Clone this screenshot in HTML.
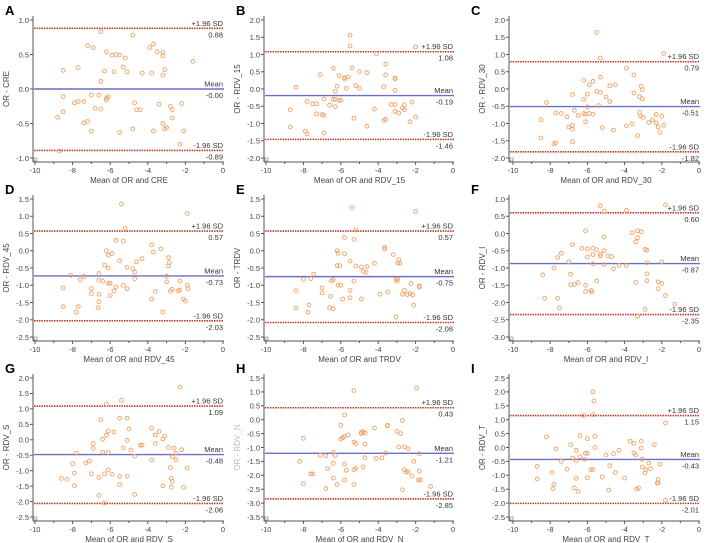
<!DOCTYPE html>
<html><head><meta charset="utf-8">
<style>
html,body{margin:0;padding:0;background:#fff;}
svg{display:block;font-family:"Liberation Sans",Arial,sans-serif;}
</style></head>
<body>
<svg id="fig" width="708" height="543" viewBox="0 0 708 543" xmlns="http://www.w3.org/2000/svg"></svg>
<script>
// ---- data ----
const panelLetters = ["A","B","C","D","E","F","G","H","I"];
const yLabels = ["OR - CRE","OR - RDV_15","OR - RDV_30","OR - RDV_45","OR - TRDV","OR - RDV_I","OR - RDV_S","OR - RDV_N","OR - RDV_T"];
const xLabels = ["Mean of OR and CRE","Mean of OR and RDV_15","Mean of OR and RDV_30","Mean of OR and RDV_45","Mean of OR and TRDV","Mean of OR and RDV_I","Mean of OR and RDV_S","Mean of OR and RDV_N","Mean of OR and RDV_T"];
const yMins = [-1,-2,-2,-2.5,-2.5,-3,-2.5,-3.5,-2.5];
const yMaxs = [1,2,2,1.5,1.5,1,2,1.5,2.5];
const yStep = 0.5;
const xTicks = [-10,-8,-6,-4,-2,0];
const means = [-0.00,-0.19,-0.51,-0.73,-0.75,-0.87,-0.48,-1.21,-0.43];
const upperLoA = [0.88,1.08,0.79,0.57,0.57,0.60,1.09,0.43,1.15];
const lowerLoA = [-0.89,-1.46,-1.82,-2.03,-2.08,-2.35,-2.06,-2.85,-2.01];
const pointsA = [[-6.5,0.83],[-4.8,0.78],[-7.2,0.63],[-6.9,0.6],[-3.9,0.6],[-3.7,0.65],[-3.5,0.54],[-3.2,0.53],[-3.2,0.48],[-6.2,0.54],[-5.9,0.49],[-5.7,0.5],[-5.5,0.49],[-5.2,0.45],[-1.6,0.4],[-8.5,0.27],[-7.7,0.31],[-6.3,0.26],[-5.8,0.25],[-5.3,0.32],[-5.1,0.25],[-4.3,0.23],[-3.8,0.23],[-3.1,0.28],[-3.2,0.2],[-6.5,0.11],[-8.5,-0.11],[-7.9,-0.2],[-7.7,-0.18],[-7.4,-0.18],[-7.0,-0.09],[-6.6,-0.09],[-6.2,-0.13],[-6.1,-0.11],[-6.2,-0.16],[-6.8,-0.28],[-6.5,-0.29],[-4.7,-0.2],[-4.6,-0.3],[-4.4,-0.3],[-3.4,-0.22],[-2.8,-0.25],[-2.7,-0.3],[-2.7,-0.42],[-2.2,-0.21],[-8.5,-0.33],[-8.8,-0.41],[-7.4,-0.49],[-7.2,-0.47],[-7.0,-0.61],[-5.5,-0.63],[-4.8,-0.58],[-3.7,-0.61],[-3.2,-0.5],[-3.1,-0.58],[-3.0,-0.56],[-2.1,-0.61],[-2.3,-0.8],[-8.7,-0.9]];
const pointsB = [[-5.5,1.56],[-5.5,1.25],[-2,1.22],[-4.1,1.02],[-3.6,0.72],[-6.4,0.6],[-5.4,0.61],[-7.1,0.42],[-6.1,0.39],[-5.8,0.33],[-5.8,0.29],[-5.6,0.35],[-5.0,0.5],[-4.6,0.47],[-3.6,0.41],[-3.1,0.32],[-3.1,0.29],[-8.4,0.05],[-6.2,0.08],[-5.7,0.02],[-5.2,0.1],[-5.0,0.02],[-3.7,0.07],[-3.1,-0.04],[-6.3,-0.07],[-7.8,-0.36],[-7.5,-0.43],[-7.3,-0.43],[-6.9,-0.29],[-6.6,-0.47],[-6.4,-0.3],[-6.3,-0.3],[-6.1,-0.33],[-6.0,-0.33],[-6.3,-0.51],[-3.3,-0.45],[-3.1,-0.45],[-2.7,-0.55],[-2.6,-0.46],[-2.6,-0.6],[-2.2,-0.38],[-7.3,-0.72],[-7.0,-0.74],[-6.9,-0.76],[-5.3,-0.85],[-4.2,-0.58],[-3.6,-0.88],[-3.7,-0.91],[-3.1,-0.65],[-2.9,-0.7],[-2.3,-0.95],[-2,-0.81],[-8.7,-0.6],[-8.7,-1.1],[-7.9,-1.22],[-7.8,-1.3],[-6.9,-1.27],[-4.6,-1.08]];
const pointsC = [[-5.5,1.64],[-5.3,0.9],[-1.9,1.03],[-3.9,0.6],[-3.5,0.41],[-6.2,0.25],[-5.9,0.12],[-5.7,0.22],[-5.3,0.34],[-4.8,0.09],[-4.5,0.12],[-3.1,0.08],[-3.05,-0.02],[-6.8,-0.16],[-6.0,-0.15],[-5.5,-0.07],[-5.3,-0.1],[-5.0,-0.23],[-4.8,-0.36],[-3.5,-0.12],[-3.2,-0.22],[-3.05,-0.28],[-6.2,-0.3],[-8.2,-0.39],[-6.0,-0.52],[-5.4,-0.48],[-7.7,-0.69],[-7.4,-0.71],[-7.1,-0.81],[-6.7,-0.62],[-6.5,-0.77],[-6.2,-0.71],[-6.1,-0.73],[-5.9,-0.71],[-5.7,-0.73],[-6.1,-0.95],[-3.2,-0.67],[-3.15,-0.78],[-3.0,-0.82],[-2.7,-0.97],[-2.5,-0.9],[-2.3,-0.74],[-2.0,-0.79],[-2.3,-0.98],[-2.2,-1.1],[-1.9,-1.05],[-2.1,-1.26],[-8.5,-0.89],[-7.0,-1.1],[-6.8,-1.05],[-6.8,-1.17],[-5.2,-1.12],[-4.6,-1.19],[-3.9,-1.07],[-3.6,-1.01],[-3.3,-1.35],[-8.5,-1.42],[-7.8,-1.59],[-7.7,-1.56],[-6.8,-1.53]];
const pointsD = [[-5.4,1.35],[-1.9,1.08],[-5.2,0.65],[-5.7,0.3],[-5.3,0.28],[-3.8,0.17],[-3.3,0.05],[-6.2,0],[-5.9,-0.08],[-6.1,-0.13],[-3.7,-0.04],[-2.9,-0.2],[-4.3,-0.23],[-4.6,-0.32],[-2.85,-0.34],[-5.5,-0.29],[-6.3,-0.42],[-6.1,-0.5],[-5.1,-0.48],[-4.8,-0.52],[-4.7,-0.62],[-2.9,-0.44],[-8.1,-0.71],[-7.4,-0.75],[-7.6,-0.84],[-6.6,-0.66],[-6.6,-0.85],[-6.4,-0.88],[-4.7,-0.81],[-3.0,-0.74],[-3.0,-0.9],[-6.1,-0.95],[-6.0,-0.94],[-5.7,-1.05],[-5.3,-1.0],[-5.1,-1.1],[-2.3,-0.88],[-2.7,-1.12],[-2.8,-1.18],[-2.4,-1.16],[-2.3,-1.14],[-1.9,-1.0],[-1.85,-1.1],[-3.6,-1.18],[-5.8,-1.17],[-8.5,-1.08],[-7.0,-1.1],[-7.0,-1.25],[-6.6,-1.26],[-6.0,-1.3],[-6.6,-1.48],[-3.8,-1.4],[-2.1,-1.4],[-2.0,-1.46],[-8.5,-1.62],[-7.7,-1.62],[-7.8,-1.78],[-6.65,-1.65],[-3.2,-1.78]];
const pointsE = [[-5.4,1.25],[-2,1.14],[-5.2,0.6],[-5.3,0.33],[-5.8,0.38],[-3.65,0.1],[-3.65,0.05],[-3.2,-0.11],[-6.2,0],[-6.15,-0.07],[-5.8,-0.09],[-2.9,-0.26],[-5.5,-0.3],[-6.2,-0.43],[-6.05,-0.43],[-5.2,-0.44],[-4.9,-0.47],[-4.6,-0.46],[-4.2,-0.36],[-4.8,-0.6],[-4.65,-0.63],[-2.95,-0.35],[-2.85,-0.36],[-7.45,-0.68],[-8.0,-0.83],[-7.6,-0.81],[-6.5,-0.87],[-6.4,-0.84],[-5.3,-0.88],[-3.05,-0.83],[-3.0,-0.88],[-2.95,-0.82],[-6.15,-1.0],[-6.0,-1.0],[-7.0,-1.07],[-8.4,-1.16],[-7.0,-1.22],[-6.55,-1.32],[-5.5,-1.15],[-2.25,-0.95],[-1.8,-1.02],[-1.8,-1.05],[-2.6,-1.15],[-3.9,-1.26],[-3.5,-1.2],[-2.7,-1.26],[-2.3,-1.24],[-2.15,-1.28],[-2.45,-1.27],[-5.9,-1.4],[-5.5,-1.36],[-4.9,-1.4],[-2.1,-1.58],[-8.4,-1.65],[-7.7,-1.57],[-7.75,-1.78],[-6.6,-1.65],[-6.4,-1.68],[-3.05,-1.92]];
const pointsF = [[-5.3,0.8],[-5.1,0.65],[-3.9,0.67],[-1.8,0.83],[-6.1,0.08],[-3.6,0.02],[-3.3,0.08],[-3.1,0.05],[-3.3,-0.12],[-3.4,-0.24],[-5.1,-0.1],[-6.8,-0.32],[-6.3,-0.43],[-6.0,-0.45],[-5.7,-0.43],[-5.5,-0.47],[-5.1,-0.5],[-5.3,-0.6],[-5.3,-0.65],[-5.7,-0.61],[-6.0,-0.68],[-4.9,-0.65],[-4.7,-0.67],[-2.9,-0.46],[-2.8,-0.48],[-7.6,-0.7],[-7.4,-0.57],[-7.0,-0.82],[-5.7,-0.88],[-5.1,-0.9],[-4.3,-0.92],[-3.9,-0.93],[-2.8,-0.85],[-2.0,-0.82],[-4.6,-1.02],[-7.8,-1.0],[-8.4,-1.2],[-6.9,-1.18],[-6.9,-1.48],[-6.7,-1.48],[-6.5,-1.42],[-6.1,-1.5],[-5.5,-1.37],[-3.4,-1.42],[-2.8,-1.17],[-2.8,-1.37],[-2.2,-1.4],[-2.0,-1.45],[-2.2,-1.6],[-6.1,-1.68],[-5.8,-1.65],[-5.75,-1.7],[-8.3,-1.88],[-7.6,-1.88],[-7.5,-2.15],[-1.8,-1.8],[-1.3,-2.05],[-2.9,-2.2],[-3.3,-2.4]];
const pointsG = [[-2.3,1.7],[-5.4,1.28],[-6.2,1.15],[-6.5,0.65],[-5.5,0.7],[-5.1,0.7],[-5.0,0.35],[-5.8,0.25],[-6.1,0.28],[-6.2,0.15],[-6.4,0.02],[-5.1,-0.02],[-3.8,0.37],[-3.6,0.15],[-3.4,0.27],[-3.2,0.03],[-3.1,0.12],[-6.9,-0.12],[-6.9,-0.28],[-5.3,-0.27],[-4.9,-0.33],[-4.4,-0.18],[-4.3,-0.17],[-3.6,-0.12],[-2.9,-0.25],[-2.6,-0.27],[-2.2,-0.32],[-6.4,-0.4],[-6.1,-0.41],[-7.8,-0.43],[-4.7,-0.53],[-2.7,-0.55],[-2.5,-0.43],[-2.5,-0.64],[-3.8,-0.66],[-8.0,-0.77],[-7.3,-0.75],[-7.1,-0.69],[-6.1,-0.97],[-7.9,-1.08],[-7.0,-1.1],[-6.3,-1.1],[-5.9,-1.12],[-5.5,-1.18],[-5.1,-1.18],[-1.9,-0.92],[-8.6,-1.25],[-8.3,-1.28],[-7.9,-1.48],[-6.6,-1.22],[-5.5,-1.45],[-3.2,-1.49],[-2.8,-0.9],[-2.75,-1.25],[-2.7,-1.35],[-2.75,-1.54],[-2.1,-1.54],[-6.6,-1.8],[-4.7,-1.77],[-6.3,-2.05]];
const pointsH = [[-5.3,1.05],[-1.95,1.13],[-5.8,0.17],[-6.0,-0.2],[-2.7,-0.03],[-4.2,-0.3],[-3.5,-0.2],[-3.5,-0.22],[-3.0,-0.42],[-2.8,-0.5],[-4.9,-0.45],[-4.8,-0.43],[-4.9,-0.5],[-4.7,-0.48],[-5.6,-0.55],[-5.8,-0.6],[-5.9,-0.65],[-6.0,-0.7],[-8.0,-0.67],[-5.3,-0.8],[-5.2,-0.86],[-4.7,-0.88],[-2.9,-0.98],[-2.6,-0.98],[-2.4,-1.05],[-7.1,-1.28],[-6.8,-1.3],[-6.4,-1.18],[-6.3,-1.28],[-3.6,-1.2],[-1.8,-1.23],[-8.2,-1.5],[-6.4,-1.57],[-5.8,-1.6],[-4.7,-1.37],[-4.1,-1.39],[-3.8,-1.37],[-2.1,-1.5],[-6.7,-1.76],[-5.7,-1.82],[-5.3,-1.8],[-5.2,-1.75],[-4.8,-1.7],[-2.6,-1.8],[-2.5,-1.88],[-2.4,-1.88],[-7.6,-1.95],[-7.5,-1.95],[-6.4,-2.1],[-5.8,-2.17],[-6.2,-2.33],[-5.3,-2.33],[-2.2,-2.03],[-1.8,-1.85],[-1.85,-2.17],[-1.75,-2.17],[-1.2,-2.4],[-8.0,-2.3],[-6.8,-2.48],[-2.7,-2.52]];
const pointsI = [[-5.7,2.0],[-5.65,1.68],[-5.7,1.18],[-6.2,1.15],[-1.8,0.88],[-8.2,0.38],[-6.4,0.43],[-6.0,0.32],[-5.6,0.4],[-3.7,0.22],[-3.1,0.23],[-2.4,0.1],[-6.9,0.1],[-5.6,0.0],[-7.7,-0.05],[-6.6,-0.1],[-4.3,-0.1],[-3.5,0.15],[-3.1,-0.02],[-6.1,-0.21],[-6.0,-0.21],[-5.0,-0.27],[-4.6,-0.22],[-3.5,-0.2],[-3.4,-0.27],[-7.4,-0.5],[-6.8,-0.38],[-6.6,-0.47],[-6.4,-0.33],[-6.15,-0.42],[-3.05,-0.42],[-3.05,-0.7],[-2.7,-0.56],[-2.1,-0.6],[-4.8,-0.65],[-7.1,-0.78],[-5.8,-0.8],[-5.7,-0.79],[-4.5,-0.9],[-2.9,-0.92],[-2.85,-0.8],[-2.6,-0.76],[-8.7,-0.68],[-7.9,-0.9],[-8.7,-1.13],[-6.6,-1.11],[-6.0,-1.09],[-5.2,-1.06],[-4.0,-1.1],[-2.2,-1.15],[-2.2,-1.27],[-2.25,-1.28],[-7.8,-1.32],[-7.85,-1.48],[-6.7,-1.45],[-6.5,-1.58],[-4.85,-1.53],[-3.35,-1.5],[-3.25,-1.45],[-1.8,-1.9]];
const allPoints = [pointsA,pointsB,pointsC,pointsD,pointsE,pointsF,pointsG,pointsH,pointsI];

// ---- layout ----
const rowTop = [20,199,378], rowBot = [158,337,517];
const colAxis = [33,264,509], colX0 = [35,266,513], colX1 = [223,453,699], colLetter = [5,236,471];
const NS = "http://www.w3.org/2000/svg";
const svg = document.getElementById('fig');
function mk(tag, attrs, parent){const e=document.createElementNS(NS,tag);for(const k in attrs)e.setAttribute(k,attrs[k]);(parent||svg).appendChild(e);return e;}
function fmt(v){return (Math.abs(v)<1e-9?0:v).toFixed(1);}
function fmt2(v){const s=Math.abs(v).toFixed(2);return ((v<0||Object.is(v,-0))?'-':'')+s;}

for(let p=0;p<9;p++){
  const r=Math.floor(p/3), c=p%3;
  const g=mk('g',{});
  
  
  const yMin=yMins[p], yMax=yMaxs[p];
  const sx=v=>colX0[c]+(v+10)/10*(colX1[c]-colX0[c]);
  const sy=v=>rowBot[r]-(v-yMin)/(yMax-yMin)*(rowBot[r]-rowTop[r]);
  const ax=colAxis[c], bottom=rowBot[r]+4;
  const lt=mk('text',{x:colLetter[c],y:rowTop[r]-5,'font-size':13,'font-weight':'bold',fill:'#000'},g);
  lt.textContent=panelLetters[p];
  
  
  const yaxis=mk('line',{x1:ax,y1:rowTop[r]-4,x2:ax,y2:bottom,stroke:'#555','stroke-width':1},g);
  
  
  const xaxis=mk('line',{x1:ax,y1:bottom,x2:colX1[c]+1,y2:bottom,stroke:'#555','stroke-width':1},g);
  
  
  mk('rect',{x:ax+1,y:bottom-4,width:3,height:3,fill:'none',stroke:'#777','stroke-width':0.6},g);
  const n=Math.round((yMax-yMin)/yStep);
  for(let i=0;i<=n;i++){
    const v=yMin+i*yStep, y=sy(v);
    mk('line',{x1:ax-3,y1:y,x2:ax,y2:y,stroke:'#555','stroke-width':1},g);
    const t=mk('text',{x:ax-4,y:y+2.8,'font-size':7.5,'text-anchor':'end',fill:'#444'},g);
    t.textContent=fmt(v);
    
    
  }
  for(let v=-10;v<=0;v++){
    const x=sx(v), major=(v%2===0);
    mk('line',{x1:x,y1:bottom,x2:x,y2:bottom+(major?3:2),stroke:'#555','stroke-width':1},g);
  }
  xTicks.forEach(v=>{
    const t=mk('text',{x:sx(v),y:bottom+11,'font-size':7.5,'text-anchor':'middle',fill:'#444'},g);
    t.textContent=String(v);
    
    
  });
  const xt=mk('text',{x:(colX0[c]+colX1[c])/2,y:bottom+21,'font-size':8,'text-anchor':'middle',fill:'#444'},g);
  xt.textContent=xLabels[p];
  
  
  const ymid=(rowTop[r]+rowBot[r])/2, yx=colAxis[c]-24;
  const yt=mk('text',{x:yx,y:ymid,'font-size':8,'text-anchor':'middle',fill:p===7?'#bbb':'#444',transform:'rotate(-90 '+yx+' '+ymid+')'},g);
  yt.textContent=yLabels[p];
  
  
  const xl=ax+1, xr=colX1[c]+1;
  const up=mk('line',{x1:xl,y1:sy(upperLoA[p]),x2:xr,y2:sy(upperLoA[p]),stroke:'#c0392b','stroke-width':1.6,'stroke-dasharray':'1.5,1'},g);
  
  
  const lo=mk('line',{x1:xl,y1:sy(lowerLoA[p]),x2:xr,y2:sy(lowerLoA[p]),stroke:'#c0392b','stroke-width':1.6,'stroke-dasharray':'1.5,1'},g);
  
  
  const mn=mk('line',{x1:xl,y1:sy(means[p]),x2:xr,y2:sy(means[p]),stroke:'#6b6fc9','stroke-width':1.4},g);
  
  
  const lab=(txt,y,name)=>{const t=mk('text',{x:xr-1,y:y,'font-size':7.5,'text-anchor':'end',fill:'#333'},g);t.textContent=txt;};
  lab('+1.96 SD',sy(upperLoA[p])-2.5,'upper-limit-label');
  lab(fmt2(upperLoA[p]),sy(upperLoA[p])+9,'upper-limit-value');
  lab('Mean',sy(means[p])-2.5,'mean-label');
  lab(fmt2(means[p]),sy(means[p])+9,'mean-value');
  lab('-1.96 SD',sy(lowerLoA[p])-2.5,'lower-limit-label');
  lab(fmt2(lowerLoA[p]),sy(lowerLoA[p])+9,'lower-limit-value');
  allPoints[p].forEach(pt=>{
    const ci=mk('circle',{cx:sx(pt[0]),cy:sy(pt[1]),r:1.9,fill:'none',stroke:'#f2a062','stroke-width':0.9},g);
    
    
  });
}
</script>
</body></html>
